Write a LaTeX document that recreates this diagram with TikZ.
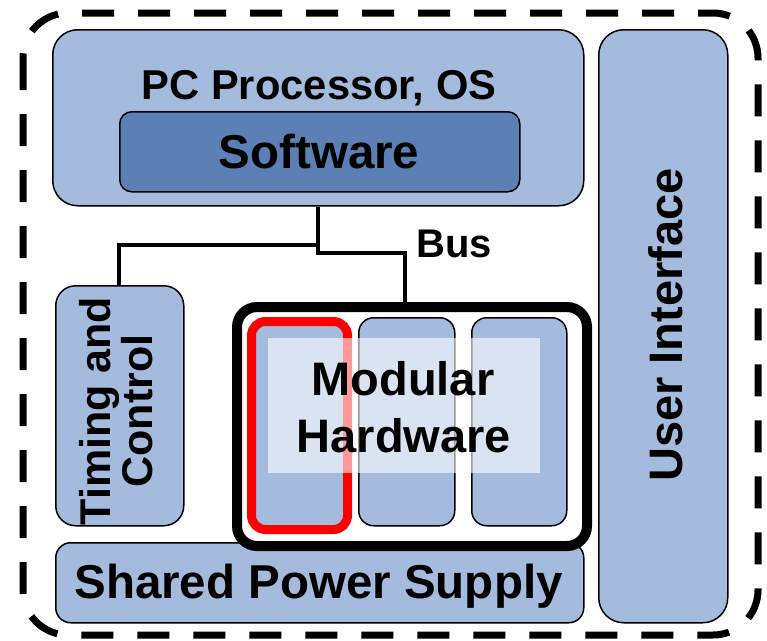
\documentclass[tikz,border=0pt]{standalone}
\usepackage{fontspec}
\setmainfont{Liberation Sans}
\definecolor{lblue}{HTML}{A4BBDD}
\definecolor{dblue}{HTML}{5A80B5}
\begin{document}
\begin{tikzpicture}[x=1pt,y=-1pt,
  box/.style={draw=black,line width=1.5pt,fill=lblue,inner sep=0pt,anchor=north west},
  lbl/.style={font=\bfseries\fontsize{#1}{#1}\selectfont,inner sep=0pt},
  wire/.style={draw=black,line width=4.5pt},
  ]
\useasboundingbox (0,0) rectangle (767,640);
% outer dashed border
\draw[line width=7pt,dash pattern=on 32pt off 24pt,rounded corners=45pt] (23,13) rectangle (758,635);
% boxes
\node[box,rounded corners=25pt,minimum width=531pt,minimum height=176pt] (pc) at (52,29) {};
\node[box,rounded corners=12pt,fill=dblue,minimum width=400pt,minimum height=80pt] (sw) at (119,111) {};
\node[box,rounded corners=25pt,minimum width=129pt,minimum height=593pt] (ui) at (598,29) {};
\node[box,rounded corners=20pt,minimum width=128pt,minimum height=240pt] (tc) at (55,285) {};
\node[box,rounded corners=15pt,minimum width=528pt,minimum height=80pt] (ps) at (55,542) {};
% modular hardware
\node[draw=black,line width=10pt,rounded corners=20pt,fill=white,inner sep=0pt,anchor=north west,minimum width=350pt,minimum height=239pt] (mh) at (232,302) {};
\node[box,draw=red,line width=9pt,rounded corners=14pt,minimum width=96pt,minimum height=208pt] (m1) at (247,317) {};
\node[box,rounded corners=15pt,minimum width=96pt,minimum height=208pt] (m2) at (358,317) {};
\node[box,rounded corners=15pt,minimum width=95pt,minimum height=208pt] (m3) at (471,317) {};
\node[fill=white,fill opacity=0.6,inner sep=0pt,anchor=north west,minimum width=272pt,minimum height=135pt] (ov) at (268,338) {};
% bus wiring
\coordinate (j1) at (318,245);
\coordinate (j2) at (318,253);
\coordinate (j3) at (405,253);
\coordinate (j4) at (119,245);
\draw[wire] (pc.south -| j1) -- (j2) -- (j3) -- (mh.north -| j3);
\draw[wire] (j1) -- (j4) -- (tc.north -| j4);
% texts
\node[lbl=41.7,anchor=base] (tpc) at (319,99) {PC Processor, OS};
\node[lbl=47.5,anchor=base] (tsw) at (319,168) {Software};
\node[lbl=40,anchor=base west] (tbus) at (416,257) {Bus};
\node[lbl=47,anchor=base] (tmod) at (403,395) {Modular};
\node[lbl=47,anchor=base] (thw) at (404,452) {Hardware};
\node[lbl=47.5,anchor=base] (tps) at (318.5,598) {Shared Power Supply};
\node[lbl=47,anchor=base,rotate=90] (tui) at (682,325) {User Interface};
\node[lbl=43,anchor=base,rotate=90] (ttc1) at (110,411) {Timing and};
\node[lbl=43,anchor=base,rotate=90] (ttc2) at (152,411) {Control};
\end{tikzpicture}
\end{document}
